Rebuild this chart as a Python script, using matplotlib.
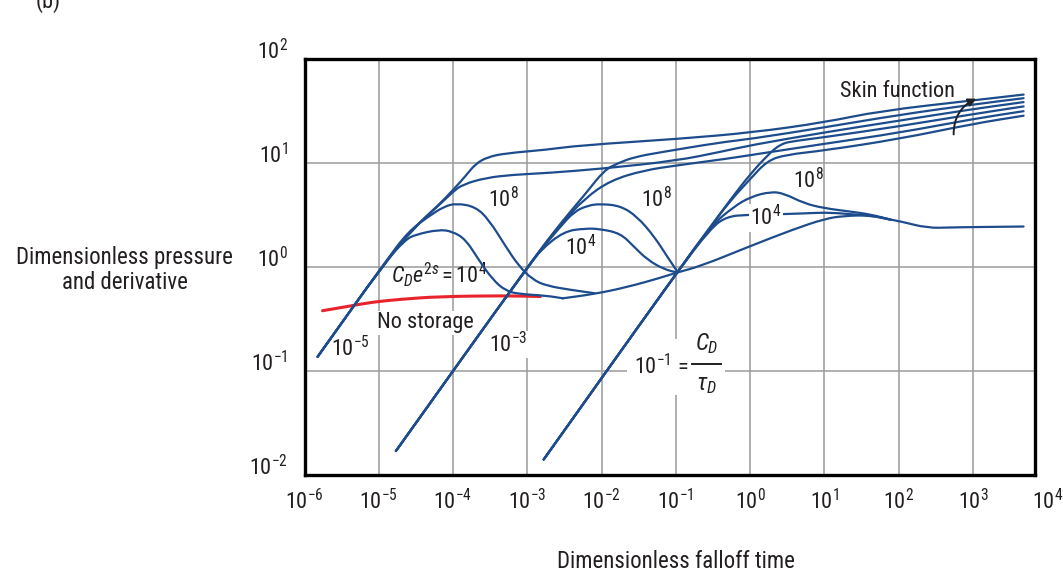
import numpy as np
import matplotlib.pyplot as plt
from matplotlib import font_manager
from matplotlib.patches import FancyArrowPatch, PathPatch, Rectangle
from matplotlib.path import Path

# pick a narrow sans face, the reference uses a condensed type
fonts = font_manager.fontManager.ttflist
names = {f.name for f in fonts}
FACE = None
for cand in ['Liberation Sans Narrow', 'Roboto Condensed', 'Open Sans Condensed', 'Noto Sans Condensed']:
    if cand in names:
        FACE = cand
        break
if FACE is not None:
    plt.rcParams['font.family'] = [FACE, 'DejaVu Sans']
    MT = FACE
elif any(f.name == 'DejaVu Sans' and f.stretch == 'condensed' for f in fonts):
    plt.rcParams['font.family'] = ['DejaVu Sans']
    plt.rcParams['font.stretch'] = 'condensed'
    MT = 'DejaVu Sans:stretch=condensed'
else:
    plt.rcParams['font.family'] = ['Roboto', 'DejaVu Sans']
    MT = 'Roboto'
plt.rcParams['mathtext.fontset'] = 'custom'
plt.rcParams['mathtext.rm'] = MT
plt.rcParams['mathtext.it'] = MT + ':italic'
plt.rcParams['mathtext.bf'] = MT + ':bold'

BLUE = '#1d4c8c'
RED = '#e8232b'
TXT = '#231f20'

# ---- C_D/tau_D = 1e-5 family ----
p1a_t = [1.5e-6, 1.2e-5, 3.0e-5, 6.4e-5, 1.0e-4, 1.5e-4, 2.0e-4, 2.9e-4, 5.1e-4, 1.8e-3, 5.2e-3, 0.116, 1.1, 9.75, 57, 1000, 4800]
p1a_p = [0.137, 1.1, 2.4, 3.95, 5.5, 7.6, 9.8, 11.4, 12.4, 13.4, 14.8, 17.1, 19.7, 24.5, 31.7, 40, 45.5]
p1b_t = [1.5e-6, 1.2e-5, 3.0e-5, 6.4e-5, 1.0e-4, 1.34e-4, 2.75e-4, 6.3e-4, 1.8e-3, 1.0e-2, 0.1, 0.4, 1.0, 10, 100, 1000, 4800]
p1b_p = [0.137, 1.1, 2.4, 3.9, 5.3, 6.2, 7.2, 7.7, 8.0, 8.8, 10.5, 12.8, 14.8, 19.7, 25.5, 33, 38.5]
d1a_t = [1.5e-6, 1.2e-5, 2.5e-5, 4.8e-5, 7.5e-5, 1.1e-4, 2.0e-4, 3.05e-4, 5.1e-4, 7.7e-4, 1.17e-3, 1.8e-3, 4.0e-3, 8.0e-3]
d1a_p = [0.137, 1.1, 2.2, 3.1, 3.8, 4.1, 3.8, 2.84, 1.58, 1.02, 0.76, 0.66, 0.6, 0.56]
d1b_t = [1.5e-6, 1.2e-5, 2.3e-5, 3.15e-5, 6.4e-5, 9.8e-5, 1.48e-4, 2.2e-4, 3.4e-4, 5.1e-4, 7.7e-4, 1.8e-3, 3.0e-3]
d1b_p = [0.137, 1.1, 1.84, 2.05, 2.29, 2.2, 1.84, 1.18, 0.76, 0.59, 0.55, 0.53, 0.5]

# ---- C_D/tau_D = 1e-3 family ----
p2a_t = [1.7e-5, 1.2e-3, 3.0e-3, 6.0e-3, 1.08e-2, 1.63e-2, 2.73e-2, 6.3e-2, 0.4, 1.0, 10, 100, 1000, 4800]
p2a_p = [0.017, 1.2, 2.8, 5.0, 8.5, 9.9, 11.4, 12.7, 15.8, 17, 22, 29, 36.5, 42]
p2b_t = [1.7e-5, 1.2e-3, 3.0e-3, 6.0e-3, 1.32e-2, 3.7e-2, 0.105, 0.49, 1.0, 10, 100, 1000, 4800]
p2b_p = [0.017, 1.2, 2.7, 4.6, 6.8, 8.5, 9.5, 11.0, 11.9, 15.3, 19.5, 26.5, 31.5]
d2a_t = [1.7e-5, 1.2e-3, 2.8e-3, 4.25e-3, 6.5e-3, 9.7e-3, 1.8e-2, 3.0e-2, 5.1e-2, 7.7e-2, 0.105]
d2a_p = [0.017, 1.2, 2.45, 3.4, 3.9, 4.05, 3.87, 3.06, 1.97, 1.25, 0.9]
d2b_t = [1.7e-5, 1.0e-3, 1.5e-3, 3.1e-3, 6.0e-3, 9.7e-3, 1.8e-2, 2.7e-2, 4.1e-2, 6.9e-2, 0.105]
d2b_p = [0.017, 1.0, 1.45, 2.2, 2.35, 2.32, 2.1, 1.58, 1.18, 0.95, 0.885]

# ---- C_D/tau_D = 1e-1 family ----
p3a_t = [1.66e-3, 0.1, 0.3, 0.55, 1.0, 1.7, 2.57, 4.0, 10, 100, 1000, 4800]
p3a_p = [0.0141, 0.86, 2.5, 4.5, 7.8, 11.8, 15.3, 16.3, 17.7, 22.5, 29.5, 35]
p3b_t = [1.66e-3, 0.1, 0.3, 0.55, 1.0, 1.7, 3.0, 10, 100, 1000, 4800]
p3b_p = [0.0141, 0.86, 2.5, 4.4, 7.0, 10.5, 12.0, 13.2, 17, 23.8, 28.5]
d3a_t = [1.66e-3, 0.1, 0.3, 0.6, 1.02, 1.89, 2.85, 5.3, 9.8, 22.5, 42, 78]
d3a_p = [0.0141, 0.86, 2.5, 3.8, 4.74, 5.3, 5.1, 4.1, 3.68, 3.41, 3.2, 2.85]
d3b_t = [1.66e-3, 0.1, 0.3, 0.49, 0.92, 3.17, 6.5, 12.1, 27.5, 42, 78]
d3b_p = [0.0141, 0.86, 2.4, 3.06, 3.18, 3.23, 3.3, 3.34, 3.18, 3.12, 2.85]

# common derivative tail (late time)
tail_t = [3.0e-3, 8.0e-3, 2.2e-2, 6.3e-2, 0.1, 0.216, 0.92, 3.8, 10, 18, 42, 78, 107, 243, 500, 1000, 4800]
tail_p = [0.5, 0.55, 0.64, 0.79, 0.88, 1.02, 1.55, 2.3, 2.9, 3.1, 3.15, 2.85, 2.74, 2.37, 2.4, 2.42, 2.45]

# no storage derivative
ns_t = [1.75e-6, 4.0e-6, 8.2e-6, 2.0e-5, 6.5e-5, 5.1e-4, 1.5e-3]
ns_p = [0.38, 0.42, 0.46, 0.49, 0.52, 0.53, 0.52]

x_ticks = [1e-6, 1e-5, 1e-4, 1e-3, 1e-2, 1e-1, 1e0, 1e1, 1e2, 1e3]
x_labels = ['$10^{-6}$', '$10^{-5}$', '$10^{-4}$', '$10^{-3}$', '$10^{-2}$',
            '$10^{-1}$', '$10^{0}$', '$10^{1}$', '$10^{2}$', '$10^{3}$']
y_ticks = [1e-2, 1e-1, 1e0, 1e1, 1e2]
y_labels = ['$10^{-2}$', '$10^{-1}$', '$10^{0}$', '$10^{1}$', '$10^{2}$']


def smooth_curve(ax, t, p, **kw):
    # quadratic bezier through the midpoints of the traced points (midpoints in log space)
    t = np.asarray(t, float)
    p = np.asarray(p, float)
    mt = np.sqrt(t[:-1] * t[1:])
    mp = np.sqrt(p[:-1] * p[1:])
    verts = [(t[0], p[0]), (mt[0], mp[0])]
    codes = [Path.MOVETO, Path.LINETO]
    for i in range(1, len(t) - 1):
        verts += [(t[i], p[i]), (mt[i], mp[i])]
        codes += [Path.CURVE3, Path.CURVE3]
    verts.append((t[-1], p[-1]))
    codes.append(Path.LINETO)
    ax.add_patch(PathPatch(Path(verts, codes), fill=False, capstyle='round', **kw))


fig = plt.figure(figsize=(10.63, 5.77), dpi=100)
ax = fig.add_axes([304.5 / 1063, 1 - 475 / 577, (1035 - 304.5) / 1063, 416 / 577])
ax.set_xscale('log')
ax.set_yscale('log')
ax.set_xlim(1e-6, 10 ** 3.835)
ax.set_ylim(1e-2, 1e2)

curves = [(p1a_t, p1a_p), (p1b_t, p1b_p), (d1a_t, d1a_p), (d1b_t, d1b_p),
          (p2a_t, p2a_p), (p2b_t, p2b_p), (d2a_t, d2a_p), (d2b_t, d2b_p),
          (p3a_t, p3a_p), (p3b_t, p3b_p), (d3a_t, d3a_p), (d3b_t, d3b_p),
          (tail_t, tail_p)]
for t, p in curves:
    smooth_curve(ax, t, p, edgecolor=BLUE, lw=1.6, zorder=3)
smooth_curve(ax, ns_t, ns_p, edgecolor=RED, lw=2.2, zorder=2.8)

ax.set_xticks(x_ticks)
ax.set_xticklabels(x_labels)
ax.set_yticks(y_ticks)
ax.set_yticklabels(y_labels)
ax.minorticks_off()
ax.tick_params(length=0, labelsize=16, labelcolor=TXT)
ax.tick_params(axis='x', pad=10)
ax.tick_params(axis='y', pad=12)
for tl in ax.get_yticklabels():
    tl.set_verticalalignment('baseline')
ax.annotate('$10^{4}$', xy=(1e4, 0), xycoords=('data', 'axes fraction'),
            xytext=(0, -10), textcoords='offset points', ha='center', va='top',
            fontsize=16, color=TXT, annotation_clip=False)
ax.grid(True, color='#9a9a9a', lw=1.1)
ax.set_axisbelow(True)
for s in ax.spines.values():
    s.set_linewidth(2.4)
    s.set_color('black')

# labels inside the plot
box = dict(facecolor='white', edgecolor='none', pad=1)
lab = dict(color=TXT, fontsize=16, ha='center', va='center', zorder=2.5)
ax.text(4.8e-4, 4.4, '$10^{8}$', **lab)
ax.text(6.5e-5, 0.85, '$C_De^{2s} = 10^{4}$', **lab)
ax.text(4.3e-5, 0.29, 'No storage', bbox=box, **lab)
ax.text(4.2e-6, 0.165, '$10^{-5}$', bbox=box, **lab)
ax.text(5.6e-4, 0.18, '$10^{-3}$', bbox=box, **lab)
ax.text(0.054, 4.4, '$10^{8}$', **lab)
ax.text(5.2e-3, 1.55, '$10^{4}$', **lab)
ax.text(6.1, 6.8, '$10^{8}$', **lab)
ax.text(1.62, 2.97, '$10^{4}$', bbox=box, color=TXT, fontsize=16, ha='center', va='center', zorder=4)

# 10^-1 = C_D / tau_D, written as a stacked fraction on a white patch
ax.add_patch(Rectangle((0.0218, 0.059), 0.454 - 0.0218, 0.204 - 0.059, facecolor='white',
                       edgecolor='none', zorder=2))
ax.text(0.149, 0.111, '$10^{-1}$ =', color=TXT, fontsize=16, ha='right', va='center', zorder=2.5)
ax.text(0.26, 0.184, '$C_D$', color=TXT, fontsize=17, ha='center', va='center', zorder=2.5)
ax.text(0.26, 0.0748, r'$\tau_D$', color=TXT, fontsize=17, ha='center', va='center', zorder=2.5)
ax.plot([0.163, 0.41], [0.118, 0.118], color=TXT, lw=1.4, zorder=2.5)

ax.text(96, 49, 'Skin function', **lab)
ax.add_patch(FancyArrowPatch((550, 17.7), (1200, 42.6), arrowstyle='-|>', mutation_scale=12,
                             connectionstyle='arc3,rad=-0.35', color='#222222', lw=1.4, zorder=4))

fig.text(124.5 / 1063, 1 - 270 / 577, 'Dimensionless pressure\nand derivative', ha='center',
         va='center', multialignment='center', fontsize=16.5, color=TXT, linespacing=1.15)
fig.text(676 / 1063, 1 - 562 / 577, 'Dimensionless falloff time', ha='center', va='center',
         fontsize=16.5, color=TXT)
fig.text(36 / 1063, 1 - 8 / 577, '(b)', ha='left', va='baseline', fontsize=16, color=TXT)

fig.savefig('out.png', dpi=100)
